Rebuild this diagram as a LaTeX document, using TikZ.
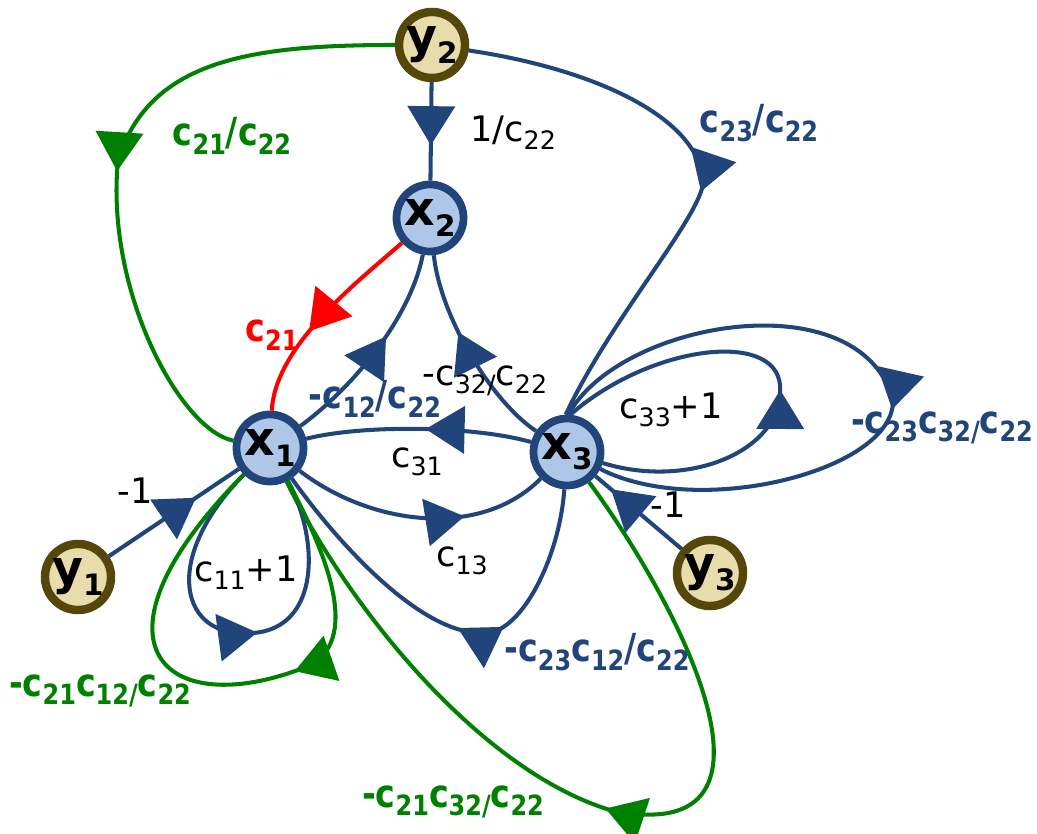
\documentclass[tikz,border=0pt]{standalone}
\usepackage{fontspec}
\setmainfont{DejaVu Sans}
\newfontfamily\narrowsans[FakeStretch=0.86]{DejaVu Sans}
\usetikzlibrary{arrows.meta,decorations.markings}
\definecolor{edgeblue}{RGB}{33,69,122}
\definecolor{nodefill}{RGB}{174,198,232}
\definecolor{srcfill}{RGB}{233,220,172}
\definecolor{srcline}{RGB}{85,70,10}
\definecolor{pathgreen}{RGB}{0,128,0}
\newcommand{\ix}[2][0.72]{\raisebox{-0.4ex}{\scalebox{#1}{#2}}}
\tikzset{every picture/.style={line width=1.15pt}}
\tikzset{
  xnode/.style={circle, draw=edgeblue, fill=nodefill, line width=2.2pt, minimum size=0.67cm, inner sep=0pt, font=\fontsize{13.5}{14}\selectfont\bfseries},
  ynode/.style={circle, draw=srcline, fill=srcfill, line width=2.4pt, minimum size=0.66cm, inner sep=0pt, font=\fontsize{13.5}{14}\selectfont\bfseries},
  tipat/.style={postaction={decorate, decoration={markings, mark=at position #1 with {\arrow{Triangle[length=3.9mm, width=4.7mm]}}}}},
  gain/.style={font=\fontsize{10}{12}\selectfont},
  bgain/.style={font=\narrowsans\fontsize{11}{12}\selectfont\bfseries},
}

\begin{document}
\begin{tikzpicture}[x=0.01cm, y=-0.01cm]
    \useasboundingbox (0,0) rectangle (1037,834);

    % state and source nodes
    \foreach \i/\p in {1/{270,448}, 2/{430,218}, 3/{567,452}}
        \node[xnode] (x\i) at (\p) {x\ix[0.62]{\i}};
    \foreach \i/\p in {1/{78,577}, 2/{432,45}, 3/{710,573}}
        \node[ynode] (y\i) at (\p) {y\ix[0.62]{\i}};

    % edges leaving y2
    \draw[edgeblue, tipat=0.64] (y2) -- (x2);
    \draw[pathgreen, tipat=0.52] (y2) .. controls (250,45) and (150,60) .. (118,160) .. controls (105,290) and (180,430) .. (x1);
    \draw[edgeblue, tipat=0.53] (y2) .. controls (600,70) and (700,120) .. (703,182) .. controls (702,215) and (610,320) .. (x3.92);

    % edges at x2
    \draw[red, tipat=0.59] (x2) .. controls (360,280) and (275,345) .. (x1);
    \draw[edgeblue, tipat=0.58] (x1) .. controls (350,390) and (410,320) .. (x2);
    \draw[edgeblue, tipat=0.61] (x3) .. controls (490,400) and (440,315) .. (x2);

    % edges between x1 and x3
    \draw[edgeblue, tipat=0.47] (x3) .. controls (470,425) and (360,425) .. (x1);
    \draw[edgeblue, tipat=0.67] (x1) .. controls (370,525) and (480,540) .. (x3);
    \draw[edgeblue, tipat=0.64] (x1) .. controls (350,560) and (440,650) .. (498,630) .. controls (530,615) and (560,550) .. (x3);
    \draw[pathgreen, tipat=0.49] (x3) .. controls (690,620) and (800,850) .. (610,810) .. controls (480,770) and (350,610) .. (x1);

    % inputs y1, y3
    \draw[edgeblue, tipat=0.67] (y1) -- (x1);
    \draw[edgeblue, tipat=0.82] (y3) -- (x3);

    % self loops
    \draw[edgeblue, tipat=0.55] (x1) .. controls (160,560) and (180,640) .. (253,633) .. controls (320,628) and (320,540) .. (x1);
    \draw[pathgreen, tipat=0.38] (x1) .. controls (330,560) and (365,650) .. (298,670) .. controls (160,720) and (80,640) .. (x1);
    \draw[edgeblue, tipat=0.47] (x3) .. controls (690,490) and (785,450) .. (780,385) .. controls (775,330) and (650,345) .. (x3.85);
    \draw[edgeblue, tipat=0.55] (x3.88) .. controls (620,320) and (860,280) .. (893,400) .. controls (895,470) and (700,520) .. (x3);

    % gains
    \node[gain] (g1) at (513,133) {1/c\ix{22}};
    \node[bgain, pathgreen] (g2) at (232,136) {c\ix{21}/c\ix{22}};
    \node[bgain, edgeblue] (g3) at (759,123) {c\ix{23}/c\ix{22}};
    \node[bgain, red] (g4) at (272,335) {c\ix{21}};
    \node[bgain, edgeblue] (g5) at (375,399) {-c\ix{12}/c\ix{22}};
    \node[gain] (g6) at (485,381) {-c\ix{32/}c\ix{22}};
    \node[gain] (g7) at (417,462) {c\ix{31}};
    \node[gain] (g8) at (462,561) {c\ix{13}};
    \node[gain] (g9) at (135,491) {-1};
    \node[gain] (g10) at (668,505) {-1};
    \node[gain] (g11) at (246,573) {c\ix{11}+1};
    \node[gain] (g12) at (671,410) {c\ix{33}+1};
    \node[bgain, edgeblue] (g13) at (942,428) {-c\ix{23}c\ix{32/}c\ix{22}};
    \node[bgain, edgeblue] (g14) at (597,652) {-c\ix{23}c\ix{12}/c\ix{22}};
    \node[bgain, pathgreen] (g15) at (100,691) {-c\ix{21}c\ix{12/}c\ix{22}};
    \node[bgain, pathgreen] (g16) at (453,802) {-c\ix{21}c\ix{32/}c\ix{22}};
\end{tikzpicture}
\end{document}
